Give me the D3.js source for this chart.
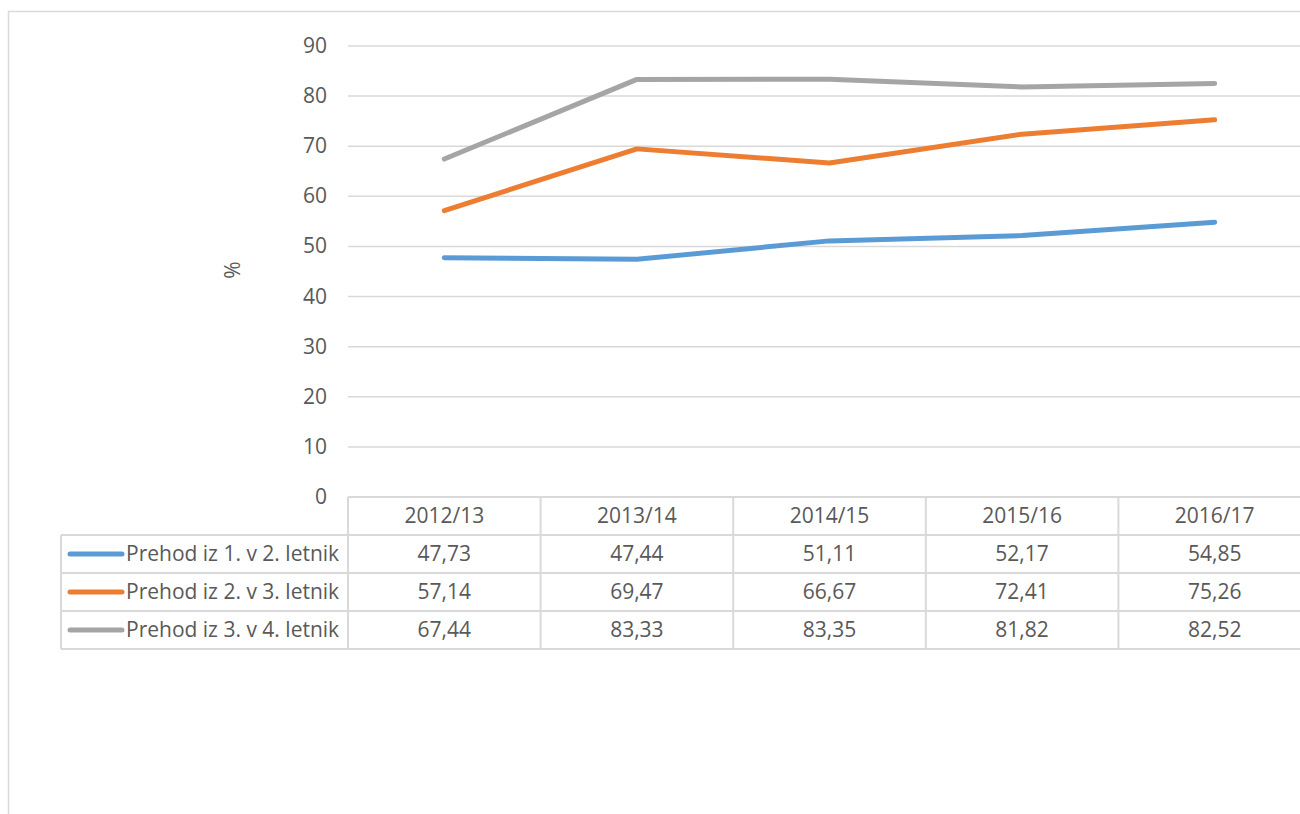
<!DOCTYPE html>
<html>
<head>
<meta charset="utf-8">
<script src="https://cdnjs.cloudflare.com/ajax/libs/d3/7.8.5/d3.min.js"></script>
<style>
  body { margin: 0; background: #fff; overflow: hidden; }
  svg { display: block; font-family: "Open Sans", sans-serif; }
</style>
</head>
<body>
<div id="chart"></div>
<script>
const years = ["2012/13", "2013/14", "2014/15", "2015/16", "2016/17"];
const seriesNames = ["Prehod iz 1. v 2. letnik", "Prehod iz 2. v 3. letnik", "Prehod iz 3. v 4. letnik"];
const prehod1 = [47.73, 47.44, 51.11, 52.17, 54.85];
const prehod2 = [57.14, 69.47, 66.67, 72.41, 75.26];
const prehod3 = [67.44, 83.33, 83.35, 81.82, 82.52];
const colors = ["#5B9BD5", "#ED7D31", "#A5A5A5"];
const yTicks = [0, 10, 20, 30, 40, 50, 60, 70, 80, 90];

const allSeries = [prehod1, prehod2, prehod3];

const W = 1300, H = 814;
const svg = d3.select("#chart").append("svg")
    .attr("width", W)
    .attr("height", H);

// chart frame (runs off the right and bottom edge like the screenshot)
svg.append("rect")
    .attr("x", 8.5).attr("y", 11.5)
    .attr("width", 1320).attr("height", 830)
    .attr("fill", "none")
    .attr("stroke", "#d9d9d9")
    .attr("stroke-width", 1.5);

const plotLeft = 348, plotRight = 1311, plotTop = 46, plotBottom = 497;
const rowH = 38;
const tableLeft = 61;
const fs = 21;

const x = d3.scaleBand().domain(years).range([plotLeft, plotRight]);
const y = d3.scaleLinear().domain([0, 90]).range([plotBottom, plotTop]);

const textColor = "#595959";
const gridColor = "#d9d9d9";

// gridlines
svg.append("g")
    .selectAll("line")
    .data(yTicks.filter(d => d > 0))
    .enter()
    .append("line")
    .attr("x1", plotLeft).attr("x2", plotRight)
    .attr("y1", d => y(d)).attr("y2", d => y(d))
    .attr("stroke", gridColor)
    .attr("stroke-width", 1.5);

// y tick labels
svg.append("g")
    .selectAll("text")
    .data(yTicks)
    .enter()
    .append("text")
    .attr("x", 327)
    .attr("y", d => y(d) + 7)
    .attr("text-anchor", "end")
    .attr("fill", textColor)
    .attr("font-size", fs)
    .text(d => d);

// y axis title
svg.append("text")
    .attr("transform", `translate(240,270) rotate(-90)`)
    .attr("text-anchor", "middle")
    .attr("fill", textColor)
    .attr("font-size", fs)
    .text("%");

// lines
const line = d3.line()
    .x((d, i) => x(years[i]) + x.bandwidth() / 2)
    .y(d => y(d));

svg.append("g")
    .selectAll("path")
    .data(allSeries)
    .enter()
    .append("path")
    .attr("d", line)
    .attr("fill", "none")
    .attr("stroke", (d, i) => colors[i])
    .attr("stroke-width", 5)
    .attr("stroke-linecap", "round")
    .attr("stroke-linejoin", "round");

// data table
const table = svg.append("g");
const tableBottom = plotBottom + rowH * 4;

// horizontal lines
table.append("line")
    .attr("x1", plotLeft).attr("x2", plotRight)
    .attr("y1", plotBottom).attr("y2", plotBottom)
    .attr("stroke", gridColor).attr("stroke-width", 2);
for (let r = 1; r <= 4; r++) {
    table.append("line")
        .attr("x1", tableLeft).attr("x2", plotRight)
        .attr("y1", plotBottom + r * rowH).attr("y2", plotBottom + r * rowH)
        .attr("stroke", gridColor).attr("stroke-width", 2);
}
// vertical lines
table.append("line")
    .attr("x1", tableLeft).attr("x2", tableLeft)
    .attr("y1", plotBottom + rowH).attr("y2", tableBottom)
    .attr("stroke", gridColor).attr("stroke-width", 2);
years.forEach(yr => {
    table.append("line")
        .attr("x1", x(yr)).attr("x2", x(yr))
        .attr("y1", plotBottom).attr("y2", tableBottom)
        .attr("stroke", gridColor).attr("stroke-width", 2);
});

// header
table.selectAll("text.hdr")
    .data(years)
    .enter()
    .append("text")
    .attr("class", "hdr")
    .attr("x", d => x(d) + x.bandwidth() / 2)
    .attr("y", plotBottom + rowH / 2 + 7)
    .attr("text-anchor", "middle")
    .attr("fill", textColor)
    .attr("font-size", fs)
    .text(d => d);

// rows
allSeries.forEach((vals, i) => {
    const rowY = plotBottom + rowH * (i + 1);
    table.append("line")
        .attr("x1", 70).attr("x2", 122)
        .attr("y1", rowY + rowH / 2).attr("y2", rowY + rowH / 2)
        .attr("stroke", colors[i])
        .attr("stroke-width", 5)
        .attr("stroke-linecap", "round");
    table.append("text")
        .attr("x", 126)
        .attr("y", rowY + rowH / 2 + 7)
        .attr("fill", textColor)
        .attr("font-size", fs)
        .text(seriesNames[i]);
    table.selectAll("text.v" + i)
        .data(vals)
        .enter()
        .append("text")
        .attr("class", "v" + i)
        .attr("x", (d, j) => x(years[j]) + x.bandwidth() / 2)
        .attr("y", rowY + rowH / 2 + 7)
        .attr("text-anchor", "middle")
        .attr("fill", textColor)
        .attr("font-size", fs)
        .text(d => d.toFixed(2).replace(".", ","));
});
</script>
</body>
</html>
